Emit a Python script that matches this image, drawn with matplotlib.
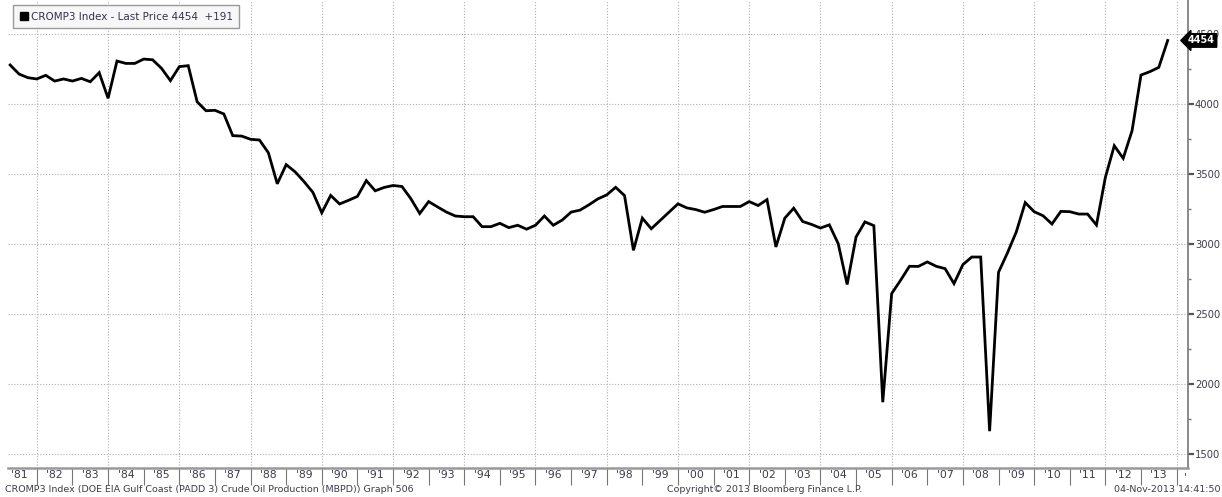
import numpy as np
import pandas as pd
import matplotlib
matplotlib.use("Agg")
import matplotlib.pyplot as plt
from matplotlib.patches import Patch
from matplotlib.ticker import FixedLocator, MultipleLocator, NullFormatter, FixedFormatter
import matplotlib.transforms as mtransforms

# ---------- Data (quarterly, Gulf Coast crude production, MBPD) ----------
START_QUARTER = "1981-03-31"
values = [
    4279, 4214, 4188, 4179,   # 1981
    4205, 4164, 4179, 4164,   # 1982
    4183, 4159, 4224, 4041,   # 1983
    4307, 4290, 4290, 4321,   # 1984
    4316, 4255, 4167, 4267,   # 1985
    4274, 4016, 3952, 3955,   # 1986
    3929, 3774, 3771, 3748,   # 1987
    3743, 3652, 3430, 3567,   # 1988
    3516, 3446, 3369, 3223,   # 1989
    3347, 3286, 3312, 3340,   # 1990
    3453, 3380, 3404, 3418,   # 1991
    3411, 3324, 3218, 3303,   # 1992
    3265, 3228, 3200, 3195,   # 1993
    3195, 3124, 3124, 3148,   # 1994
    3117, 3134, 3106, 3134,   # 1995
    3200, 3134, 3171, 3228,   # 1996
    3242, 3280, 3322, 3351,   # 1997
    3405, 3346, 2955, 3185,   # 1998
    3109, 3168, 3227, 3287,   # 1999
    3258, 3246, 3227, 3246,   # 2000
    3268, 3268, 3268, 3303,   # 2001
    3275, 3317, 2979, 3185,   # 2002
    3256, 3161, 3140, 3114,   # 2003
    3137, 3002, 2711, 3050,   # 2004
    3158, 3131, 1870, 2646,   # 2005
    2741, 2841, 2840, 2872,   # 2006
    2841, 2824, 2717, 2853,   # 2007
    2907, 2907, 1663, 2798,   # 2008
    2936, 3087, 3296, 3231,   # 2009
    3202, 3143, 3233, 3231,   # 2010
    3214, 3214, 3136, 3476,   # 2011
    3702, 3612, 3810, 4207,   # 2012
    4231, 4262, 4454,         # 2013
]
y_ticks = [1500, 2000, 2500, 3000, 3500, 4000, 4500]
year_labels = ["'%02d" % (y % 100) for y in range(1981, 2014)]
legend_label = "CROMP3 Index - Last Price 4454  +191"
last_value = "4454"
footer_left = "CROMP3 Index (DOE EIA Gulf Coast (PADD 3) Crude Oil Production (MBPD)) Graph 506"
footer_mid = "Copyright\u00a9 2013 Bloomberg Finance L.P."
footer_right = "04-Nov-2013 14:41:50"
# -------------------------------------------------------------------------

dates = pd.date_range(START_QUARTER, periods=len(values), freq="QE")
# decimal years at quarter end (Mar -> .25, Dec -> 1.0)
x = dates.year + dates.month / 12.0

W, H = 1222, 497
fig = plt.figure(figsize=(W / 100, H / 100), dpi=100)
ax = fig.add_axes([8 / W, 29 / H, (1188 - 8) / W, (H - 29) / H])

TXT = "#3c3c4c"
GRID = "#b0b0b0"

ax.plot(x, values, color="black", lw=2.0, solid_joinstyle="miter", zorder=3)

ax.set_xlim(1981.19, 2014.32)
ax.set_ylim(1400, 4743)

# grid: every 500 horizontally, every 2 years vertically
for yv in y_ticks:
    ax.axhline(yv, color=GRID, lw=0.8, ls=(0, (1, 1.6)), zorder=1)
for yr in range(1982, 2015, 2):
    ax.axvline(yr, color=GRID, lw=0.8, ls=(0, (1, 1.6)), zorder=1)

# right y axis
ax.yaxis.tick_right()
ax.yaxis.set_major_locator(FixedLocator(y_ticks))
ax.yaxis.set_minor_locator(MultipleLocator(250))
ax.tick_params(axis="y", which="major", direction="out", length=4, width=1.6,
               color="#555555", labelsize=7.2, labelcolor=TXT, pad=1)
ax.tick_params(axis="y", which="minor", direction="out", length=2, width=1,
               color="#777777")

# x axis: separators at year boundaries, labels centred inside each year
ax.xaxis.set_major_locator(FixedLocator(list(range(1982, 2015))))
ax.xaxis.set_major_formatter(NullFormatter())
ax.xaxis.set_minor_locator(FixedLocator([y + 0.5 for y in range(1981, 2014)]))
ax.xaxis.set_minor_formatter(FixedFormatter(year_labels))
ax.tick_params(axis="x", which="major", direction="out", length=12, width=0.8,
               color="#777777")
ax.tick_params(axis="x", which="minor", length=0, labelsize=7.8,
               labelcolor=TXT, pad=1.5)
# truncated label of 2014 at the right edge
ax.text(2014.25, -0.008, "'", transform=mtransforms.blended_transform_factory(ax.transData, ax.transAxes),
        ha="center", va="top", fontsize=7.8, color=TXT, clip_on=False)

for side in ("top", "left"):
    ax.spines[side].set_visible(False)
ax.spines["bottom"].set_color("#999999")
ax.spines["bottom"].set_linewidth(1.8)
ax.spines["right"].set_color("#777777")
ax.spines["right"].set_linewidth(1.2)

# legend box
leg = ax.legend(handles=[Patch(facecolor="black", edgecolor="black", label=legend_label)],
                loc="upper left", bbox_to_anchor=(0.002, 0.995), fontsize=7.5,
                frameon=True, fancybox=False, framealpha=1, edgecolor="#9a9a9a",
                handlelength=0.8, handleheight=0.8, handletextpad=0.3,
                borderpad=0.6, borderaxespad=0.3)
leg.get_frame().set_facecolor("#f7f7f7")
leg.get_frame().set_linewidth(1.0)
for t in leg.get_texts():
    t.set_color("#33334d")

# last value marker on the right axis
trans = mtransforms.blended_transform_factory(ax.transAxes, ax.transData)
ax.text(1.0, values[-1], last_value, transform=trans, ha="left", va="center",
        fontsize=7.0, color="white", fontweight="bold", clip_on=False, zorder=10,
        bbox=dict(boxstyle="larrow,pad=0.18", facecolor="black", edgecolor="black"))

# footer
fig.text(5 / W, 8 / H, footer_left, fontsize=6.8, color=TXT, ha="left", va="center")
fig.text(765 / W, 8 / H, footer_mid, fontsize=6.8, color=TXT, ha="center", va="center")
fig.text(1220 / W, 8 / H, footer_right, fontsize=6.8, color=TXT, ha="right", va="center")

fig.savefig("out.png", dpi=100, facecolor="white")
